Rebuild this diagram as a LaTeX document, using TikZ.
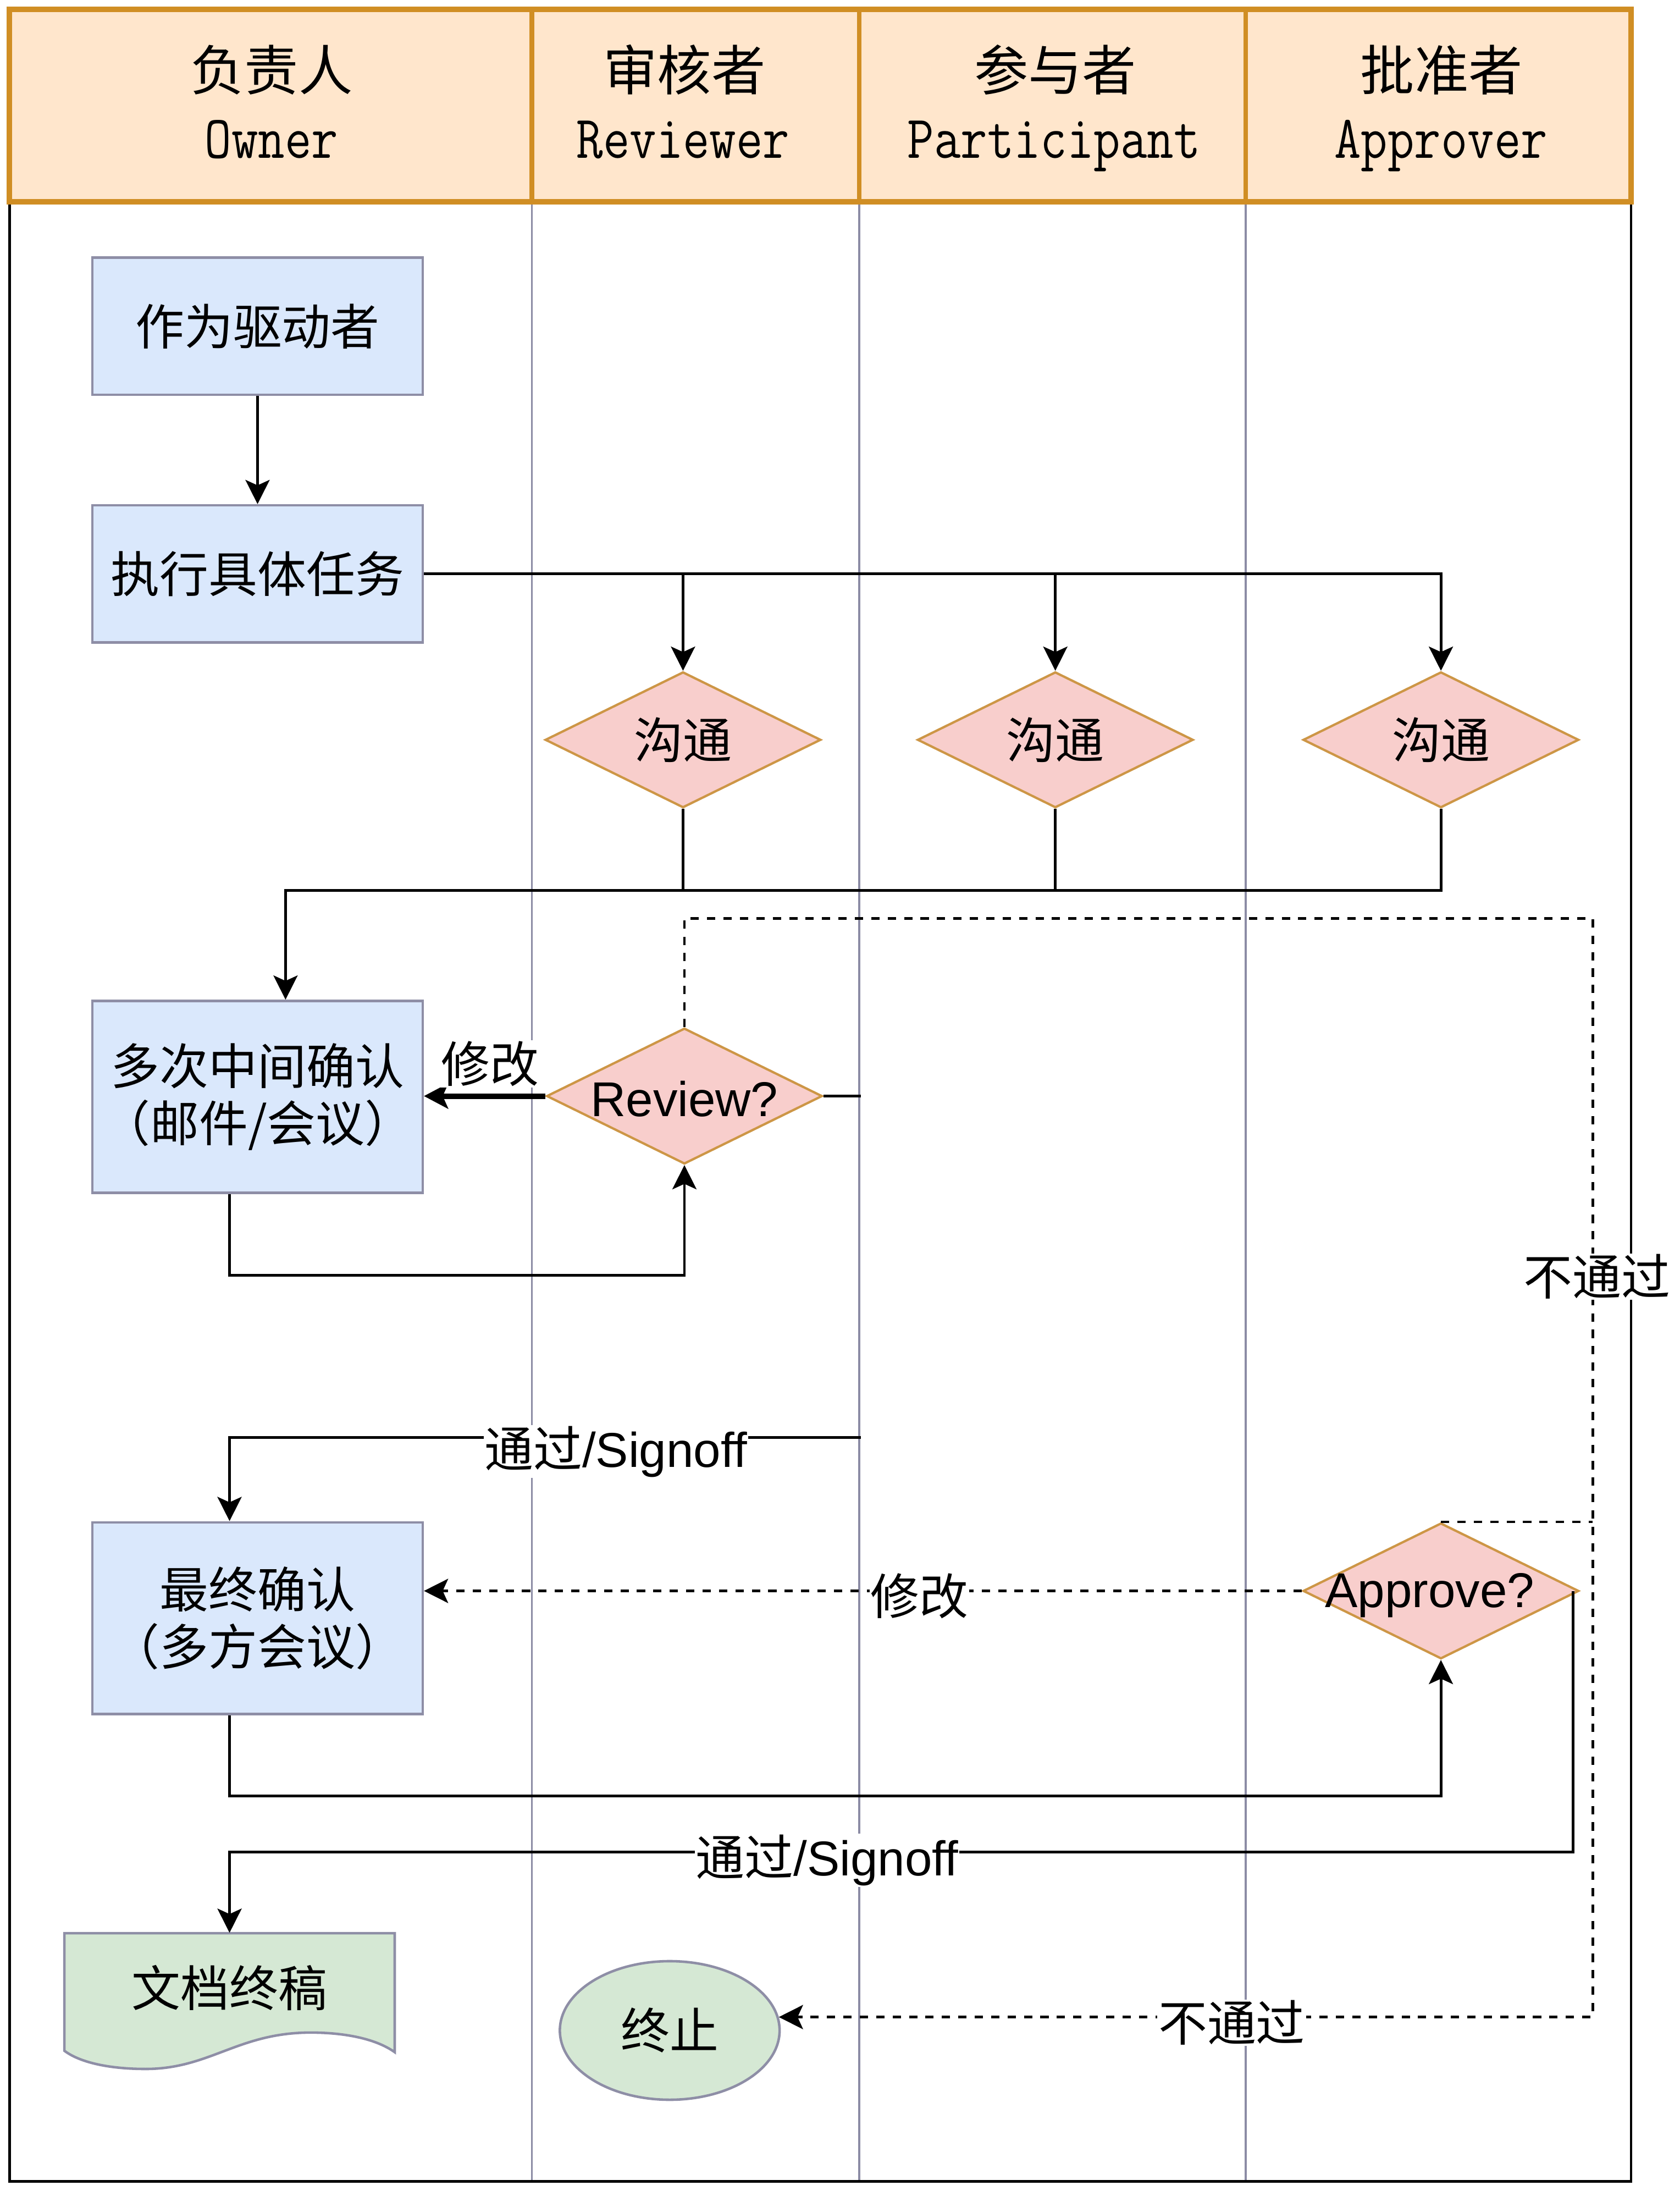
\documentclass[tikz,border=0pt]{standalone}
\usepackage{graphicx}
\usepackage{fontspec}
\setmainfont{Liberation Sans}
\newfontfamily\cjk{Noto Sans CJK SC}
\usetikzlibrary{arrows.meta,shapes.geometric,calc}
\definecolor{hdrfill}{HTML}{FFE6CC}
\definecolor{hdrline}{RGB}{208,142,36}
\definecolor{boxfill}{HTML}{DAE8FC}
\definecolor{boxline}{RGB}{142,142,166}
\definecolor{diafill}{HTML}{F8CECC}
\definecolor{dialine}{RGB}{205,150,70}
\definecolor{greenfill}{HTML}{D5E8D4}
\definecolor{lanecol}{RGB}{140,140,165}
\newdimen\U \U=0.02546cm
\newcommand\fsbody{\fontsize{25.3}{29.7}\selectfont}
\newcommand\fshdcn{\fontsize{28}{30}\selectfont}
\newcommand\fshdtt{\fontsize{31.5}{32}\selectfont}
\newcommand\hdtt[1]{\scalebox{0.85}[1]{\ttfamily\fshdtt #1}}
\begin{document}
\begin{tikzpicture}[x=0.02546cm,y=-0.02546cm,
  hdcn/.style={font=\fshdcn\cjk, inner sep=0pt},
  hdtt/.style={anchor=base, inner sep=0pt},
  box/.style={draw=boxline, line width=1.3pt, fill=boxfill, minimum width=236\U, minimum height=98\U, inner sep=0pt, font=\fsbody\cjk, align=center},
  tallbox/.style={box, minimum height=137\U},
  dia/.style={diamond, draw=dialine, line width=1.2pt, fill=diafill, minimum width=197\U, minimum height=97\U, inner sep=0pt},
  lbl/.style={fill=white, inner sep=0.5pt, font=\fsbody},
  conn/.style={line width=1.4pt},
  arr/.style={conn, -{Stealth[length=12.5pt,width=12.5pt,inset=2.8pt]}},
  thickarr/.style={line width=2.85pt, -{Stealth[length=12.5pt,width=13pt,inset=2.8pt]}},
  dconn/.style={conn, dash pattern=on 4.3pt off 4.2pt},
  darr/.style={dconn, -{Stealth[length=12.5pt,width=12.5pt,inset=2.8pt]}},
  lane/.style={draw=lanecol, line width=1.1pt}
]
\useasboundingbox (0,0) rectangle (1200,1565.2);

% ---- swimlane frame ----
\draw[lane] (380,144) -- (380,1558.2);
\draw[lane] (614,144) -- (614,1558.2);
\draw[lane] (890,144) -- (890,1558.2);
\draw[line width=1.3pt, black] (6.8,144) -- (6.8,1558.2) -- (1165.3,1558.2) -- (1165.3,144);
\draw[fill=hdrfill, draw=hdrline, line width=2.8pt] (6.8,6.8) rectangle (1165.3,144);
\draw[draw=hdrline, line width=2.4pt] (380,6.8) -- (380,144);
\draw[draw=hdrline, line width=2.4pt] (614,6.8) -- (614,144);
\draw[draw=hdrline, line width=2.4pt] (890,6.8) -- (890,144);

\node[hdcn] (h1c) at (194,50) {负责人};
\node[hdtt] (h1e) at (194,113) {\hdtt{Owner}};
\node[hdcn] (h2c) at (489,50) {审核者};
\node[hdtt] (h2e) at (488,113) {\hdtt{Reviewer}};
\node[hdcn] (h3c) at (754,50) {参与者};
\node[hdtt] (h3e) at (753,113) {\hdtt{Participant}};
\node[hdcn] (h4c) at (1030,50) {批准者};
\node[hdtt] (h4e) at (1029.5,113) {\hdtt{Approver}};

% ---- document shape background ----
\draw[draw=boxline, fill=greenfill, line width=1.3pt]
  (46,1381) -- (282,1381) -- (282,1466)
  .. controls (268,1456) and (245,1452) .. (222,1452)
  .. controls (170,1452) and (150,1478) .. (104,1478)
  .. controls (80,1478) and (58,1474) .. (46,1465) -- cycle;

% ---- nodes ----
\node[box] (drive) at (184,233) {作为驱动者};
\node[box] (exec) at (184,410) {执行具体任务};
\node[dia, label={[font=\fsbody\cjk]center:沟通}] (c1) at (488,528.5) {};
\node[dia, label={[font=\fsbody\cjk]center:沟通}] (c2) at (754,528.5) {};
\node[dia, label={[font=\fsbody\cjk]center:沟通}] (c3) at (1029.5,528.5) {};
\node[tallbox] (conf) at (184,783.5) {多次中间确认\\（邮件/会议）};
\node[dia, label={[font=\fsbody, yshift=-2\U]center:Review?}] (rev) at (489,783) {};
\node[tallbox] (fin) at (184,1156) {最终确认\\（多方会议）};
\node[dia, label={[font=\fsbody, xshift=-8\U, yshift=-3\U]center:Approve?}] (app) at (1029.5,1136.5) {};
\node[font=\fsbody\cjk, minimum height=78\U, inner sep=0pt] (doc) at (164,1420) {文档终稿};
\node[ellipse, draw=boxline, fill=greenfill, line width=1.3pt, minimum width=157\U, minimum height=99\U, inner sep=0pt, font=\fsbody\cjk] (stop) at (478.5,1450.5) {终止};

% ---- helper coordinates ----
\coordinate (j1) at (204,636);
\coordinate (k1) at (164,911);
\coordinate (q1) at (615,1027);
\coordinate (k2) at (164,1027);
\coordinate (k3) at (164,1283);
\coordinate (k4) at (1124,1323);
\coordinate (r1) at (1138,656);

% ---- connectors ----
\draw[arr] (drive.south) -- (exec.north);
\draw[arr] (exec.east) -| (c3.north);
\draw[arr] (exec.east) -| (c1.north);
\draw[arr] (exec.east) -| (c2.north);
\draw[conn] (c1.south) -- (c1.south |- j1);
\draw[conn] (c2.south) -- (c2.south |- j1);
\draw[arr] (c3.south) |- (j1) -- (j1 |- conf.north);
\draw[thickarr] (rev.west) -- (rev.west -| conf.east);
\draw[conn] (rev.east) -- (rev.east -| q1);
\draw[arr] (k1 |- conf.south) -- (k1) -| (rev.south);
\draw[arr] (q1) -- (k2) -- (k2 |- fin.north);
\draw[arr] (k3 |- fin.south) -- (k3) -| (app.south);
\draw[darr] (app.west) -- (app.west -| fin.east);
\draw[arr] (k4 |- app.east) -- (k4) -| (doc.north);
\draw[darr] (rev.north) |- (r1) -- (r1 |- stop.7) -- (stop.7);
\draw[dconn] (app.north) -- (app.north -| r1);

% ---- labels ----
\node[lbl, font=\fsbody\cjk] (m1) at (350,760) {修改};
\node[lbl, font=\fsbody\cjk] (m2) at (657,1140) {修改};
\node[lbl] (p1) at (440,1037) {{\cjk 通过}/Signoff};
\node[lbl] (p2) at (591,1329) {{\cjk 通过}/Signoff};
\node[lbl, font=\fsbody\cjk] (n1) at (1141,912) {不通过};
\node[lbl, font=\fsbody\cjk] (n2) at (880,1445) {不通过};
\end{tikzpicture}
\end{document}
